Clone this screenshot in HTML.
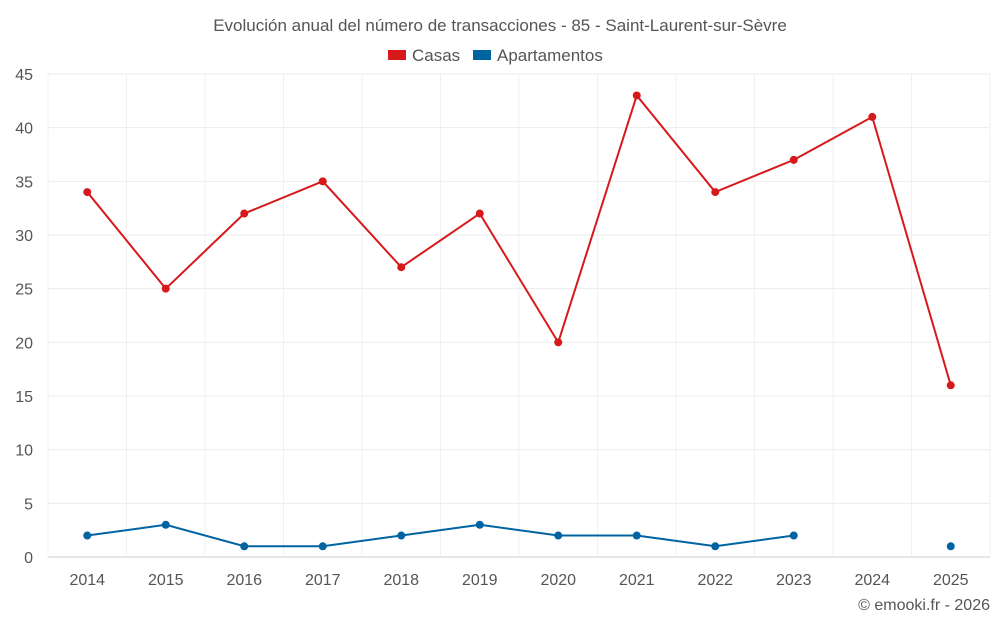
<!DOCTYPE html>
<html><head><meta charset="utf-8"><style>
body{margin:0;background:#fff;font-family:"Liberation Sans",sans-serif}
svg text{font-family:"Liberation Sans",sans-serif;fill:#555}
</style></head><body>
<svg id="c" width="1000" height="625" xmlns="http://www.w3.org/2000/svg">
<text x="500" y="31" text-anchor="middle" font-size="17">Evolución anual del número de transacciones - 85 - Saint-Laurent-sur-Sèvre</text>
<g>
<g><rect x="388" y="50" width="18" height="10" fill="#d7191c"/><text x="412" y="61" font-size="17">Casas</text></g>
<g><rect x="473" y="50" width="18" height="10" fill="#0063a2"/><text x="497" y="61" font-size="17">Apartamentos</text></g>
</g>
<g id="grid"></g><g id="marks"></g>
<text x="990" y="610" text-anchor="end" font-size="16">© emooki.fr - 2026</text>
</svg>
<script>
const categories=[2014,2015,2016,2017,2018,2019,2020,2021,2022,2023,2024,2025];
const casas=[34,25,32,35,27,32,20,43,34,37,41,16];
const apartamentos=[2,3,1,1,2,3,2,2,1,2,null,1];
const yTicks=[0,5,10,15,20,25,30,35,40,45];
const NS="http://www.w3.org/2000/svg";
const L=48,R=990,T=74,B=557,yMax=45;
const bw=(R-L)/categories.length;
const x=i=>L+bw*(i+0.5);
const y=v=>B-(v/yMax)*(B-T);
function mk(tag,attrs,parent){const e=document.createElementNS(NS,tag);for(const k in attrs)e.setAttribute(k,attrs[k]);parent.appendChild(e);return e;}
const g=document.getElementById('grid'),m=document.getElementById('marks');
yTicks.forEach(t=>{
 const l=mk('line',{x1:L,x2:R,y1:y(t),y2:y(t),stroke:t===0?'#ccc':'#ebebeb','stroke-width':1},g);
 
 
 const tx=mk('text',{x:33,y:y(t)+6,'text-anchor':'end','font-size':16},g);tx.textContent=t;
 
 
});
for(let i=0;i<=categories.length;i++){
 const l=mk('line',{x1:L+bw*i,x2:L+bw*i,y1:T,y2:B,stroke:'#f0f0f0','stroke-width':1},g);
 
 
}
categories.forEach((c,i)=>{
 const tx=mk('text',{x:x(i),y:585,'text-anchor':'middle','font-size':16},g);tx.textContent=c;
 
 
});
function series(vals,color,name){
 let d='',pen=false;
 vals.forEach((v,i)=>{if(v==null){pen=false;return;}d+=(pen?'L':'M')+x(i)+' '+y(v)+' ';pen=true;});
 const p=mk('path',{d:d,fill:'none',stroke:color,'stroke-width':2},m);
 
 
 vals.forEach((v,i)=>{if(v==null)return;
  const c=mk('circle',{cx:x(i),cy:y(v),r:4,fill:color},m);
  
  
 });
}
series(casas,'#d7191c','casas');
series(apartamentos,'#0063a2','apartamentos');
</script>
</body></html>
